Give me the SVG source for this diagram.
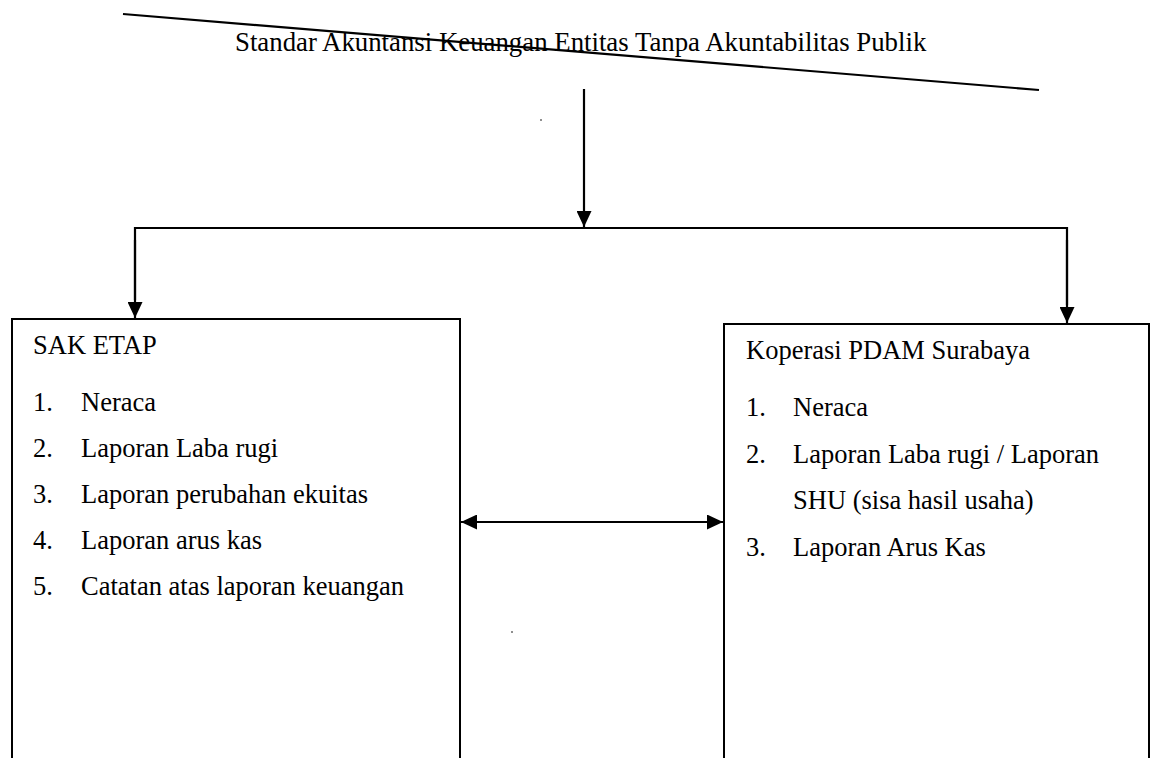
<svg xmlns="http://www.w3.org/2000/svg" width="1150" height="758" viewBox="0 0 1150 758">
<style>
  .t { font-family: "Liberation Serif", "Times New Roman", serif; font-size: 26.5px; fill: #000; }
  .title { font-size: 26.8px; }
  .ln { stroke: #000; stroke-width: 2.2; fill: none; }
  .box { stroke: #000; stroke-width: 2; fill: none; }
</style>
<defs>
  <marker id="ah" markerUnits="userSpaceOnUse" markerWidth="16" markerHeight="15" viewBox="0 0 16 15" refX="16" refY="7.5" orient="auto-start-reverse">
    <path d="M0,0 L16,7.5 L0,15 z" fill="#000"/>
  </marker>
</defs>
<rect width="1150" height="758" fill="#fff"/>

<g id="title">
  <line class="ln" x1="123" y1="14" x2="1039" y2="90"/>
  <text class="t title" x="235" y="51">Standar Akuntansi Keuangan Entitas Tanpa Akuntabilitas Publik</text>
  <circle cx="541" cy="120" r="0.8" fill="#000"/>
</g>

<g id="connectors">
  <line class="ln" x1="584" y1="89" x2="584" y2="227" marker-end="url(#ah)"/>
  <polyline class="ln" points="135,300 135,228 1067,228 1067,305" />
  <line class="ln" x1="135" y1="240" x2="135" y2="318" marker-end="url(#ah)"/>
  <line class="ln" x1="1067" y1="240" x2="1067" y2="323" marker-end="url(#ah)"/>
  <line class="ln" x1="461" y1="522" x2="723" y2="522" marker-start="url(#ah)" marker-end="url(#ah)"/>
  <circle cx="512" cy="632" r="0.8" fill="#000"/>
</g>

<g id="sak-etap">
  <path class="box" d="M12,758 L12,319 L460,319 L460,758"/>
  <text class="t" x="33" y="354">SAK ETAP</text>
  <text class="t" x="33" y="411">1.</text><text class="t" x="81" y="411">Neraca</text>
  <text class="t" x="33" y="457">2.</text><text class="t" x="81" y="457">Laporan Laba rugi</text>
  <text class="t" x="33" y="503">3.</text><text class="t" x="81" y="503">Laporan perubahan ekuitas</text>
  <text class="t" x="33" y="549">4.</text><text class="t" x="81" y="549">Laporan arus kas</text>
  <text class="t" x="33" y="595">5.</text><text class="t" x="81" y="595">Catatan atas laporan keuangan</text>
</g>

<g id="koperasi">
  <path class="box" d="M724,758 L724,324 L1149,324 L1149,758"/>
  <text class="t" x="746" y="359">Koperasi PDAM Surabaya</text>
  <text class="t" x="746" y="416">1.</text><text class="t" x="793" y="416">Neraca</text>
  <text class="t" x="746" y="463">2.</text><text class="t" x="793" y="463">Laporan Laba rugi / Laporan</text>
  <text class="t" x="793" y="509">SHU (sisa hasil usaha)</text>
  <text class="t" x="746" y="556">3.</text><text class="t" x="793" y="556">Laporan Arus Kas</text>
</g>
</svg>
